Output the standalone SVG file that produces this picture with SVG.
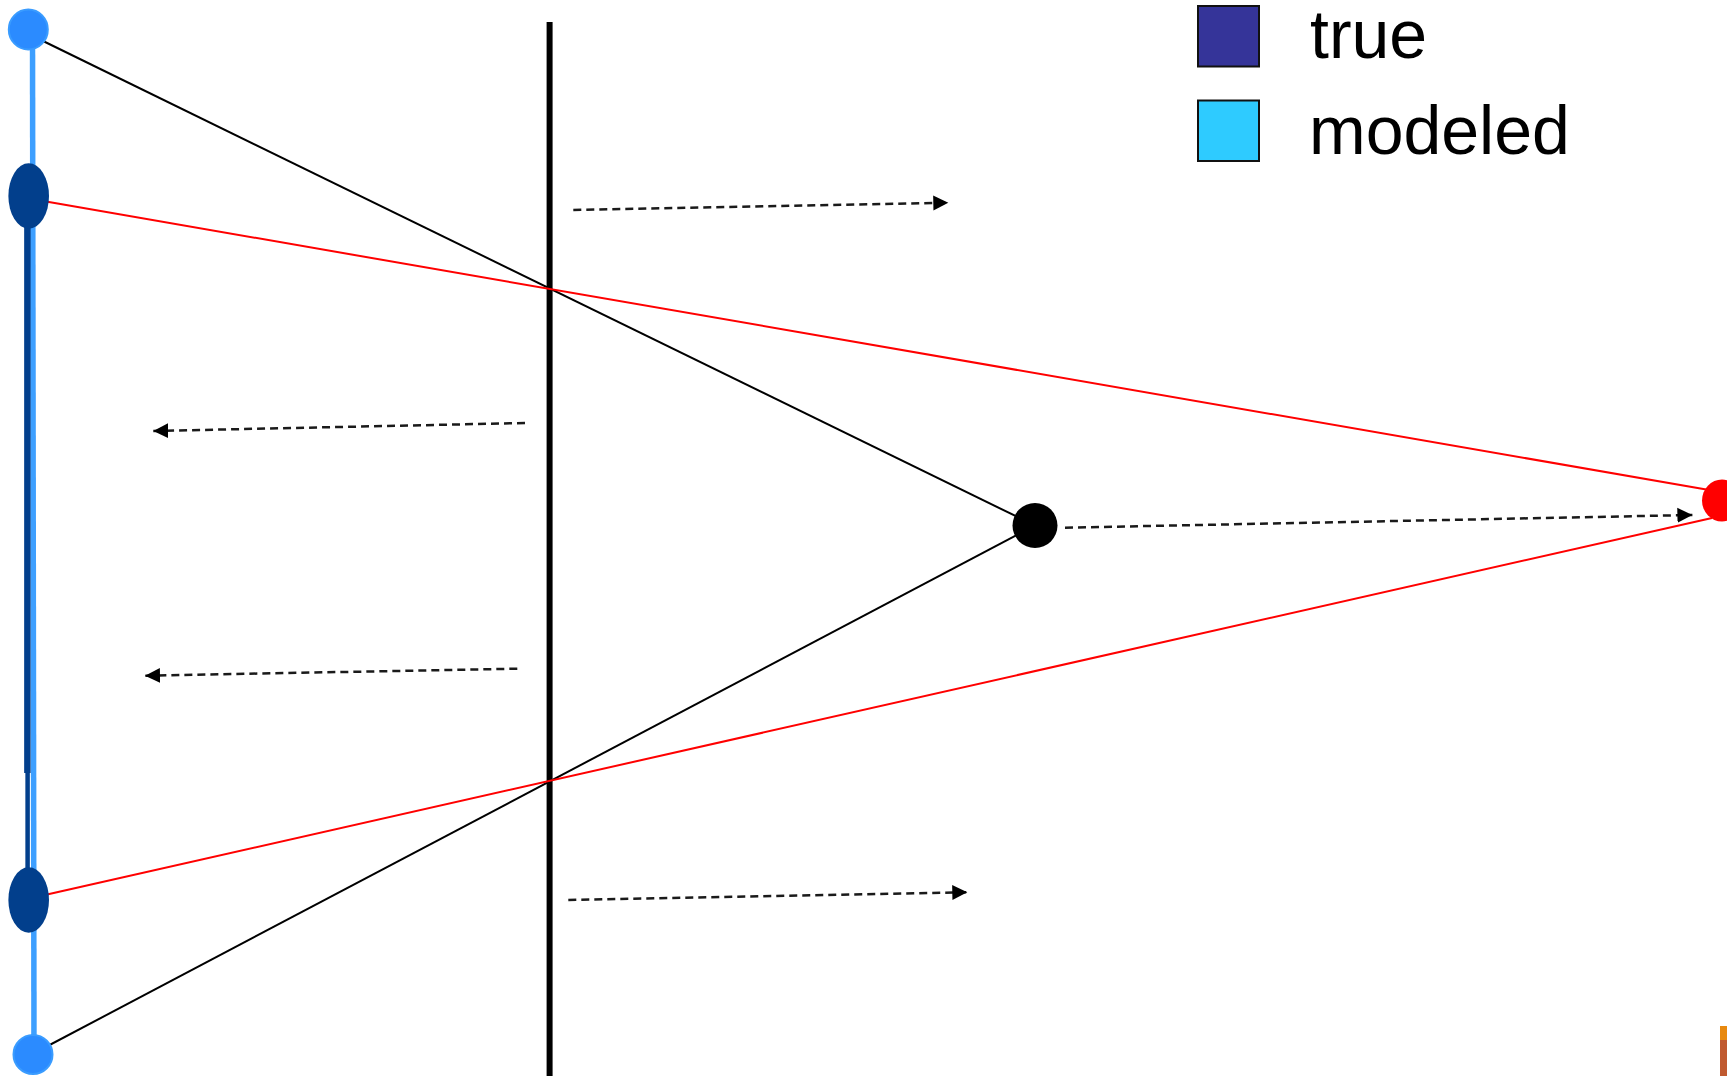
<svg xmlns="http://www.w3.org/2000/svg" width="1727" height="1076" viewBox="0 0 1727 1076">
<style>
.ray{stroke:#000;stroke-width:2;fill:none}
.red{stroke:#ff0000;stroke-width:2;fill:none}
.flow{stroke:#1a1a1a;stroke-width:2.5;stroke-dasharray:8 5;fill:none}
.lb{fill:#2b8bff;stroke:#3a9cff;stroke-width:2}
.db{fill:#023f8c}
.lbl{font-family:"Liberation Sans",Arial,sans-serif;font-size:68px;fill:#000}
</style>
<defs>
<marker id="ah" markerUnits="userSpaceOnUse" markerWidth="16" markerHeight="16" viewBox="0 0 16 16" refX="15" refY="8" orient="auto">
<path d="M0,0.5 L15,8 L0,15.5 Z" fill="#000"/>
</marker>
</defs>
<rect width="1727" height="1076" fill="#fff"/>
<g id="screen">
<line x1="549.6" y1="22" x2="549.6" y2="1076" stroke="#000" stroke-width="6"/>
</g>
<g id="detector">
<line x1="32.5" y1="30" x2="34" y2="1054" stroke="#3d9fff" stroke-width="5.5"/>
<line x1="27.4" y1="196" x2="27.4" y2="773" stroke="#023f8c" stroke-width="6.5"/>
<line x1="27.6" y1="773" x2="27.6" y2="900" stroke="#023f8c" stroke-width="4.5"/>
</g>
<g id="connectors">
<line class="ray" x1="41" y1="40" x2="1035" y2="525.5"/>
<line class="ray" x1="34.4" y1="1053" x2="1035" y2="525.5"/>
<line class="red" x1="46" y1="201.5" x2="1712" y2="490.5"/>
<line class="red" x1="47" y1="894.5" x2="1712" y2="518"/>
<line class="flow" x1="573.3" y1="210" x2="948.3" y2="202.7" marker-end="url(#ah)"/>
<line class="flow" x1="525" y1="423" x2="153.3" y2="431" marker-end="url(#ah)"/>
<line class="flow" x1="517.3" y1="668.7" x2="145" y2="675.7" marker-end="url(#ah)"/>
<line class="flow" x1="568.3" y1="900" x2="967.3" y2="892.3" marker-end="url(#ah)"/>
<line class="flow" x1="1065" y1="527.7" x2="1692.4" y2="515" marker-end="url(#ah)"/>
</g>
<g id="top-modeled"><ellipse class="lb" cx="28.3" cy="29.5" rx="19.5" ry="20"/></g>
<g id="top-true"><ellipse class="db" cx="28.7" cy="196" rx="20.3" ry="32.7"/></g>
<g id="bottom-true"><ellipse class="db" cx="28.7" cy="900" rx="20.3" ry="32.7"/></g>
<g id="bottom-modeled"><ellipse class="lb" cx="33" cy="1054.5" rx="19.5" ry="19.5"/></g>
<g id="source"><ellipse cx="1035" cy="525.5" rx="22.5" ry="22.5" fill="#000"/></g>
<g id="image"><ellipse cx="1722" cy="500.5" rx="20" ry="21" fill="#ff0000"/></g>
<g id="legend">
<rect x="1198" y="6" width="61" height="60.5" fill="#353499" stroke="#111" stroke-width="2"/>
<text class="lbl" x="1310" y="58">true</text>
<rect x="1198" y="100.5" width="61" height="60.5" fill="#2ecbff" stroke="#111" stroke-width="2"/>
<text class="lbl" x="1309" y="153.5">modeled</text>
</g>
<rect x="1720" y="1026" width="7" height="14" fill="#e8890f"/>
<rect x="1720" y="1040" width="7" height="36" fill="#c05a30"/>
</svg>
